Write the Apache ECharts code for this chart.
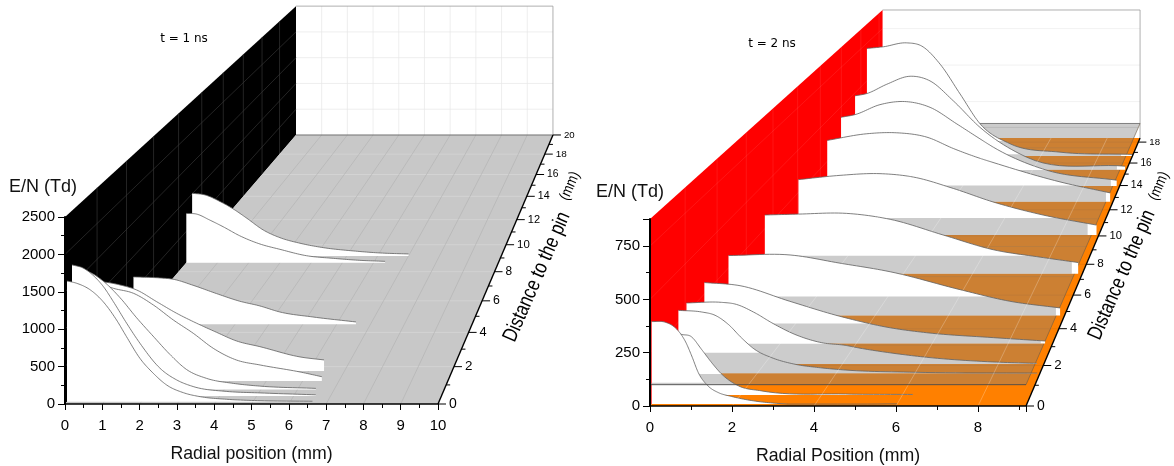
<!DOCTYPE html>
<html><head><meta charset="utf-8">
<style>html,body{margin:0;padding:0;background:#fff}#c{width:1174px;height:466px}</style>
<script src="https://cdn.jsdelivr.net/npm/echarts@6/dist/echarts.min.js"></script>
</head><body><div id="c"></div>
<script>
// ---------- data (back ribbon first) ----------
const depthTicks = [0,2,4,6,8,10,12,14,16,18];
const leftDepthTicks = [0,2,4,6,8,10,12,14,16,18,20];

// t = 1 ns
const leftDepth = [9.15, 8.65, 4.5, 1.76, 1.21, 0.76, 0.42, 0.12];
const leftRadial = [
 [0,0.42,0.91,1.33,1.77,2.3,2.84,3.49,4.24,5.21,6.08,7.0],
 [0,0.33,0.75,1.18,1.71,2.36,3,3.85,4.71,5.56,6.37],
 [0,0.78,1.17,1.76,2.45,3.14,3.73,4.32,5.3,6.57],
 [0,0.32,0.74,1.2,1.76,2.32,2.88,3.43,3.99,4.64,5.76,6.43],
 [0,0.4,0.79,1.34,1.89,2.44,2.99,3.54,4.18,4.83,5.93,6.53],
 [0,0.35,0.7,1.16,1.61,2.06,2.52,2.97,3.52,4.25,4.97,6.5],
 [0,0.31,0.58,0.85,1.12,1.48,1.84,2.38,2.83,3.28,4.19,5.09,6.6],
 [0,0.26,0.63,0.97,1.33,1.6,1.96,2.32,2.68,3.13,3.58,4.29,5.19,6.6]
];
const leftField = [
 [1011,984,876,758,608,419,295,205,134,81,48,32],
 [788,777,682,575,431,299,214,112,70,38,22],
 [697,682,663,574,452,339,270,181,107,34],
 [1240,1234,1196,1127,964,802,663,538,417,338,195,153],
 [1420,1340,1273,1205,1044,838,655,449,288,220,124,59],
 [1640,1590,1473,1247,975,725,476,272,150,82,45,14],
 [1768,1723,1623,1475,1272,980,710,374,216,126,60,40,14],
 [1618,1587,1497,1341,1096,871,581,380,223,120,67,32,13,5]
];

// t = 2 ns
const rightDepth = [16.65,15.39,13.97,12.64,10.07,7.37,4.76,3.18,2.08,1.6,0.52,0.09];
const rightRadial = [
 [0,0.57,1.37,1.89,2.53,3.22,3.91,4.94,6.67,9.2],
 [0,0.4,1.07,1.86,2.53,3.32,4.22,5.8,9.12],
 [0,0.46,1.28,2.16,2.93,3.81,4.57,5.01,6.77,9.07],
 [0,1.27,2.23,3.2,4.06,4.91,5.32,7.47,9.08],
 [0,1.27,2.49,3.51,4.73,5.94,7.47,9.1],
 [0,0.97,2.36,3.62,5.15,6.6,7.95,9.05],
 [0,1.68,3.04,4.41,6.32,7.68,9.05],
 [0,0.94,2.25,3.57,4.89,5.85,7.61,8.97],
 [0,0.9,1.24,1.76,2.19,2.78,3.47,4.07,4.45,5.22,6.16,7.86,8.99],
 [0,0.59,0.93,1.27,1.6,1.94,2.37,2.96,3.55,4.23,6,9.1],
 [0,0.3,0.51,0.79,1.04,1.29,1.54,1.95,2.52,4.6,6.26],
 [0,0.33,0.53,0.69,0.82,0.98,1.14,1.38,1.63,1.95,2.53,3.09,6]
];
const rightField = [
 [715,726,752,731,610,412,214,82,26,11],
 [480,495,555,607,577,447,275,81,23],
 [434,451,514,533,497,392,298,245,99,36],
 [379,420,426,399,328,268,243,123,55],
 [325,350,360,340,273,194,117,58],
 [326,331,335,302,215,133,92,62],
 [315,318,275,230,136,75,40],
 [308,292,213,137,79,54,29,12],
 [301,304,296,252,203,146,105,92,78,55,33,10,3],
 [307,299,283,238,173,116,76,44,28,16,5,1],
 [330,320,291,277,217,154,99,44,20,5,3],
 [388,385,366,335,296,226,148,85,54,36,14,3,1]
];
const planeLevel = 100;

// ---------- oblique view: maps (r, E, depth) to data values of the front plane ----------
const views = {
  left:{rv:19.91, ev:11564, b:0.02257, rMax:10, eMax:2500, dMax:20, xi:0},
  right:{rv:18.0, ev:3988, b:0.025, rMax:9.17, eMax:877, dMax:18.4, xi:1}
};
function proj(v,r,e,d){const s=1/(1+v.b*d);return [v.rv+(r-v.rv)*s, v.ev+(e-v.ev)*s];}
function smoothCurve(rs,es){ // display smoothing of the read points (cubic in r)
  const n=rs.length,h=[],g=[],m=[];
  for(let i=0;i<n-1;i++){h[i]=rs[i+1]-rs[i];g[i]=(es[i+1]-es[i])/h[i];}
  m[0]=g[0];m[n-1]=g[n-2];
  for(let i=1;i<n-1;i++){m[i]=(h[i]*g[i-1]+h[i-1]*g[i])/(h[i]+h[i-1]);}
  const out=[];
  for(let i=0;i<n-1;i++){
    for(let t=0;t<12;t++){const u=t/12,u2=u*u,u3=u2*u;
      const e=(2*u3-3*u2+1)*es[i]+(u3-2*u2+u)*h[i]*m[i]+(-2*u3+3*u2)*es[i+1]+(u3-u2)*h[i]*m[i+1];
      out.push([rs[i]+u*h[i],Math.max(0,e)]);
    }
  }
  out.push([rs[n-1],es[n-1]]);return out;
}
function poly(points,fill){return {type:'polygon',silent:true,shape:{points},style:{fill,stroke:null}};}
function line(points,stroke,w){return {type:'polyline',silent:true,shape:{points},style:{fill:null,stroke,lineWidth:w}};}

function frameItem(v,opt){
  return function(params,api){
    const P=(r,e,d)=>api.coord(proj(v,r,e,d));
    const ch=[];const R=v.rMax,T=v.eMax,D=v.dMax;
    ch.push(poly([P(0,0,D),P(R,0,D),P(R,T,D),P(0,T,D)],'#ffffff'));
    opt.rGrid.forEach(r=>{ch.push(line([P(r,0,D),P(r,T,D)],opt.backGrid,0.7));});
    opt.eGrid.forEach(e=>{ch.push(line([P(0,e,D),P(R,e,D)],opt.backGrid,0.7));});
    ch.push(line([P(0,T,D),P(R,T,D),P(R,0,D)],'#9a9a9a',0.8));
    ch.push(poly([P(0,0,0),P(0,T,0),P(0,T,D),P(0,0,D)],opt.wall));
    opt.dGrid.forEach(d=>{ch.push(line([P(0,0,d),P(0,T,d)],opt.wallGrid,0.6));});
    opt.eGrid.forEach(e=>{ch.push(line([P(0,e,0),P(0,e,D)],opt.wallGrid,0.6));});
    ch.push(poly([P(0,0,0),P(R,0,0),P(R,0,D),P(0,0,D)],opt.floor));
    opt.dGrid.forEach(d=>{ch.push(line([P(0,0,d),P(R,0,d)],opt.floorD,0.6));});
    opt.rGrid.forEach(r=>{ch.push(line([P(r,0,0),P(r,0,D)],opt.floorR,0.6));});
    if(opt.plane){
      const L=planeLevel;
      ch.push(poly([P(0,L,0),P(R,L,0),P(R,L,D),P(0,L,D)],'rgba(128,128,128,0.4)'));
      opt.dGrid.forEach(d=>{ch.push(line([P(0,L,d),P(R,L,d)],'rgba(110,110,110,0.3)',0.6));});
      ch.push(line([P(0,L,D),P(R,L,D)],'#666666',0.8));
      ch.push(line([P(R,L,0),P(R,L,D)],'#6b5a44',0.6));
    } else {
      ch.push(line([P(0,0,D),P(R,0,D)],'#666666',0.9));
    }
    return {type:'group',children:ch};
  };
}
function ribbonItem(v,depths,rad,field,withPlane){
  return function(params,api){
    const i=api.value(0),d=depths[i];
    const P=(r,e)=>api.coord(proj(v,r,e,d));
    const c=smoothCurve(rad[i],field[i]);
    const last=c[c.length-1][0];
    const ch=[];
    const pts=c.map(q=>P(q[0],q[1]));
    ch.push(poly(pts.concat([P(last,0),P(0,0)]),'#ffffff'));
    if(withPlane){
      const s=1/(1+v.b*d);
      const low=Math.max(0,v.ev+(planeLevel-v.ev)/s);
      const rEdge=8.95;
      const upper=c.filter(q=>q[0]<=rEdge&&q[1]>low).map(q=>[q[0],Math.min(q[1],planeLevel)]);
      if(upper.length>1){
        const band=upper.map(q=>P(q[0],q[1]));
        band.push(P(upper[upper.length-1][0],low));
        band.push(P(upper[0][0],low));
        ch.push(poly(band,'rgba(128,128,128,0.4)'));
      }
    }
    ch.push(line(pts,'#5f5f5f',0.8));
    return {type:'group',children:ch};
  };
}
function overlayItem(v,opt){
  return function(params,api){
    const P=(r,e,d)=>api.coord(proj(v,r,e,d));
    const ch=[];const R=v.rMax,D=v.dMax;
    if(opt.plane){
      opt.topGrid.forEach(r=>{ch.push(line([P(r,0,0),P(r,0,D)],'rgba(255,255,255,0.35)',0.7));});
      ch.push(line([P(0,planeLevel,0),P(R,planeLevel,0)],'#4a4a4a',0.9));
    }
    ch.push(line([P(R,0,0),P(R,0,D)],'#000000',1.4));
    opt.minor.forEach(d=>{const a=P(R,0,d);ch.push(line([a,[a[0]+4,a[1]]],'#000000',1));});
    opt.ticks.forEach(d=>{
      const a=P(R,0,d),s=1/(1+v.b*d);
      ch.push(line([a,[a[0]+8,a[1]]],'#000000',1));
      ch.push({type:'text',silent:true,x:a[0]+11,y:a[1],style:{text:String(d),fontFamily:'Liberation Sans',fontSize:14*s,fill:'#000',align:'left',verticalAlign:'middle'}});
    });
    return {type:'group',children:ch};
  };
}
function customSeries(idx,name,data,renderItem){
  return {type:'custom',name,coordinateSystem:'cartesian2d',xAxisIndex:idx,yAxisIndex:idx,silent:true,clip:false,animation:false,
    data,encode:{x:0,y:1},renderItem};
}
const leftOpt={wall:'#000000',wallGrid:'#3c3c3c',backGrid:'#e6e6e6',floor:'#c8c8c8',floorD:'#dadada',floorR:'#b0b0b0',plane:false,
  rGrid:[1,2,3,4,5,6,7,8,9],eGrid:[500,1000,1500,2000],dGrid:[2,4,6,8,10,12,14,16,18],
  ticks:leftDepthTicks,minor:[1,3,5,7,9,11,13,15,17,19],topGrid:[]};
const rightOpt={wall:'#ff0000',wallGrid:'rgba(255,255,255,0.14)',backGrid:'#ececec',floor:'#ff8000',floorD:'rgba(110,80,40,0.22)',floorR:'rgba(255,255,255,0)',plane:true,
  rGrid:[],eGrid:[250,500,750],dGrid:[2,4,6,8,10,12,14,16,18],
  ticks:depthTicks,minor:[1,3,5,7,9,11,13,15,17],topGrid:[2,4,6,8]};
const font='Liberation Sans';
const plain=v=>String(v);
function axisX(idx,max,interval,title){return {gridIndex:idx,type:'value',min:0,max,interval,z:10,
  axisLine:{show:true,onZero:false,lineStyle:{color:'#000',width:1.6}},
  axisTick:{show:true,length:6,lineStyle:{color:'#000',width:1}},
  minorTick:{show:true,splitNumber:2,length:4,lineStyle:{color:'#000',width:1}},
  splitLine:{show:false},minorSplitLine:{show:false},
  axisLabel:{color:'#000',fontFamily:font,fontSize:15,margin:14,formatter:plain,showMaxLabel:idx===0},
  name:title,nameLocation:'middle',nameGap:41,nameTextStyle:{color:'#111',fontFamily:font,fontSize:17.7}};}
function axisY(idx,max,interval,gap,pad){return {gridIndex:idx,type:'value',min:0,max,interval,z:10,
  axisLine:{show:true,onZero:false,lineStyle:{color:'#000',width:2}},
  axisTick:{show:true,length:7,lineStyle:{color:'#000',width:1}},
  minorTick:{show:true,splitNumber:2,length:4,lineStyle:{color:'#000',width:1}},
  splitLine:{show:false},minorSplitLine:{show:false},
  axisLabel:{color:'#000',fontFamily:font,fontSize:15,margin:10,formatter:plain,showMaxLabel:idx===0},
  name:'E/N (Td)',nameLocation:'end',nameGap:gap,
  nameTextStyle:{color:'#111',fontFamily:font,fontSize:18,align:'right',padding:[0,-pad,0,0]}};}
function txt(text,x,y,size,rot,family,sx){return {type:'text',silent:true,x,y,rotation:rot||0,scaleX:sx||1,style:{text,fontFamily:family||font,fontSize:size,fill:'#000',align:'center',verticalAlign:'middle'}};}
const rot=1.16;
const option={
  animation:false,backgroundColor:'#ffffff',
  grid:[{left:65,top:217,width:373,height:187},{left:650,top:219,width:376,height:188}],
  xAxis:[axisX(0,10,1,'Radial position (mm)'),axisX(1,9.17,2,'Radial Position (mm)')],
  yAxis:[axisY(0,2500,500,21,12),axisY(1,877,250,18,14)],
  graphic:[
    txt('t = 1 ns',184,39,12,0,'DejaVu Sans'),
    txt('t = 2 ns',772,44,12,0,'DejaVu Sans'),
    txt('Distance to the pin',537,277,21,rot,font,0.8),
    txt('(mm)',570,186,15,rot,font,0.85),
    txt('Distance to the pin',1122,275,21,rot,font,0.8),
    txt('(mm)',1159,186,15,rot,font,0.85)
  ],
  series:[
    customSeries(0,'frame-1',[[0,0]],frameItem(views.left,leftOpt)),
    customSeries(0,'t = 1 ns',leftDepth.map((d,i)=>[i,d]),ribbonItem(views.left,leftDepth,leftRadial,leftField,false)),
    customSeries(0,'overlay-1',[[0,0]],overlayItem(views.left,leftOpt)),
    customSeries(1,'frame-2',[[0,0]],frameItem(views.right,rightOpt)),
    customSeries(1,'t = 2 ns',rightDepth.map((d,i)=>[i,d]),ribbonItem(views.right,rightDepth,rightRadial,rightField,true)),
    customSeries(1,'overlay-2',[[0,0]],overlayItem(views.right,rightOpt))
  ]
};
echarts.init(document.getElementById('c'),null,{renderer:'canvas'}).setOption(option);
</script></body></html>
